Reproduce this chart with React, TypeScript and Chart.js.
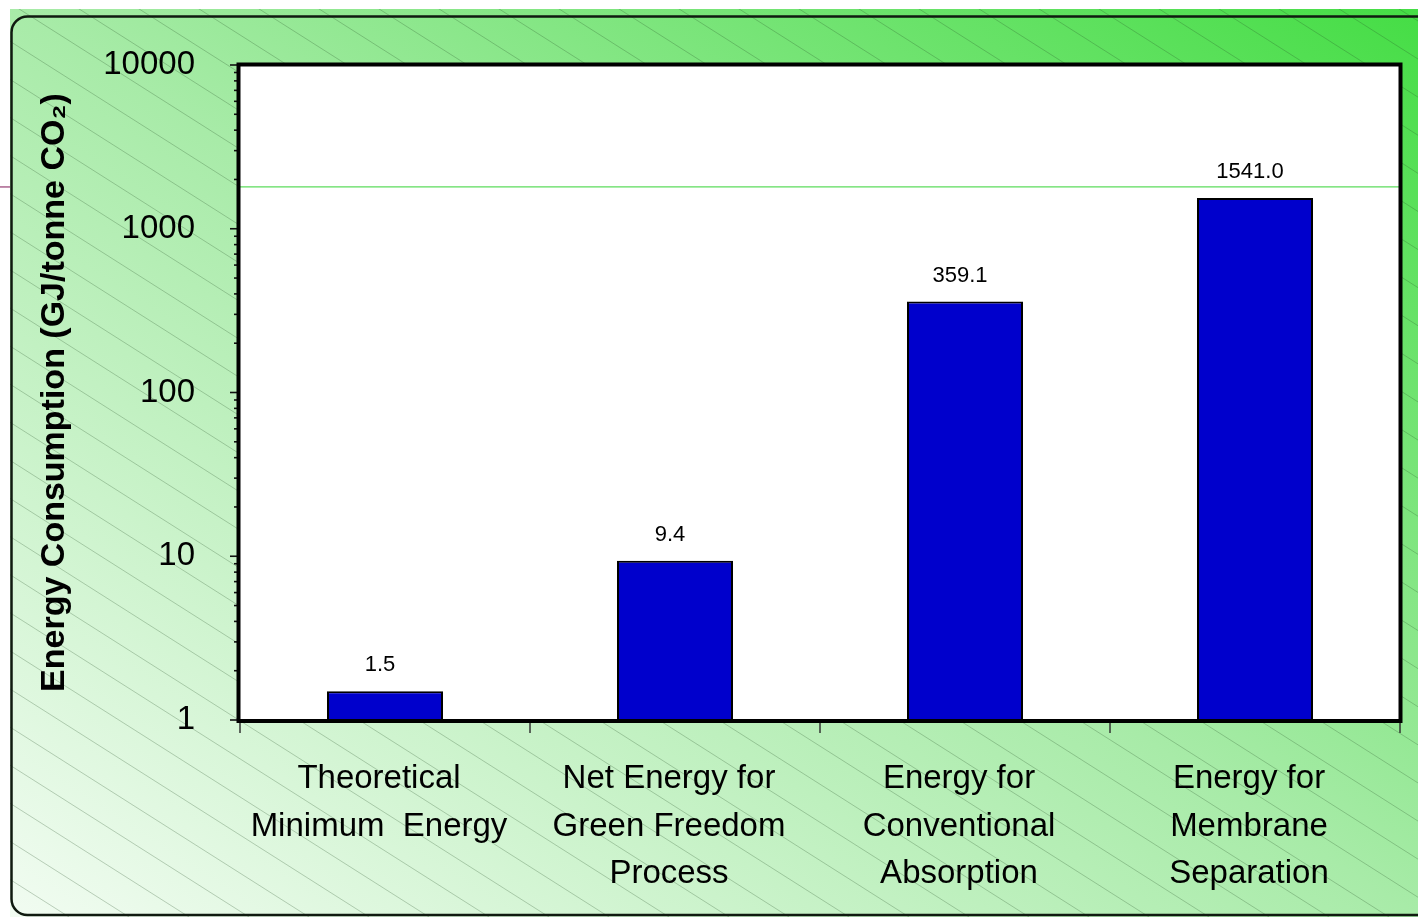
import React, { useEffect, useRef } from "react";
import { Chart, registerables } from "chart.js";

Chart.register(...registerables);

const FONT = "'Liberation Sans', Arial, Helvetica, sans-serif";

const categories: string[][] = [
  ["Theoretical", "Minimum  Energy"],
  ["Net Energy for", "Green Freedom", "Process"],
  ["Energy for", "Conventional", "Absorption"],
  ["Energy for", "Membrane", "Separation"],
];
const energyValues = [1.5, 9.4, 359.1, 1541.0];
const valueLabels = ["1.5", "9.4", "359.1", "1541.0"];
const yTickValues = [1, 10, 100, 1000, 10000];
const minorMultipliers = [2, 3, 4, 5, 6, 7, 8, 9];
const referenceLineValue = 1800;
const yAxisTitle = "Energy Consumption (GJ/tonne CO\u2082)";

const backgroundPlugin = {
  id: "slideBackground",
  beforeDraw(chart: any) {
    const { ctx, width, height, chartArea } = chart;
    ctx.save();
    ctx.fillStyle = "#ffffff";
    ctx.fillRect(0, 0, width, height);

    const g = ctx.createLinearGradient(291, 1105, 1127, -189);
    g.addColorStop(0, "#f2fcf2");
    g.addColorStop(0.5, "#a8eba8");
    g.addColorStop(1, "#44dd44");
    ctx.fillStyle = g;
    ctx.fillRect(10, 9, width - 10, height - 9);

    // hatch lines
    ctx.save();
    ctx.beginPath();
    ctx.rect(10, 9, width - 10, height - 9);
    ctx.clip();
    ctx.strokeStyle = "rgba(40,80,40,0.27)";
    ctx.lineWidth = 1;
    const slope = 0.635;
    for (let k = -30; k < 30; k++) {
      const x0 = 5 + 60 * k;
      ctx.beginPath();
      ctx.moveTo(x0, 0);
      ctx.lineTo(x0 + height / slope, height);
      ctx.stroke();
    }
    ctx.restore();

    // rounded frame
    const r = 16;
    const L = 11.5, T = 16.5, B = 915, R = width + 40;
    ctx.beginPath();
    ctx.moveTo(R, T);
    ctx.lineTo(L + r, T);
    ctx.arcTo(L, T, L, T + r, r);
    ctx.lineTo(L, B - r);
    ctx.arcTo(L, B, L + r, B, r);
    ctx.lineTo(R, B);
    ctx.strokeStyle = "#101a10";
    ctx.lineWidth = 2.5;
    ctx.stroke();

    // plot area
    ctx.fillStyle = "#ffffff";
    ctx.fillRect(chartArea.left, chartArea.top, chartArea.right - chartArea.left, chartArea.bottom - chartArea.top);

    const yRef = chart.scales.y.getPixelForValue(referenceLineValue);
    ctx.strokeStyle = "#5ddc5d";
    ctx.lineWidth = 1.3;
    ctx.beginPath();
    ctx.moveTo(chartArea.left, yRef);
    ctx.lineTo(chartArea.right, yRef);
    ctx.stroke();
    ctx.strokeStyle = "#9c4a7c";
    ctx.beginPath();
    ctx.moveTo(0, yRef);
    ctx.lineTo(10, yRef);
    ctx.stroke();
    ctx.restore();
  },
  afterDatasetsDraw(chart: any) {
    const { ctx, chartArea } = chart;
    const yScale = chart.scales.y;
    const xScale = chart.scales.x;
    ctx.save();

    // y ticks (major + minor)
    ctx.strokeStyle = "#111";
    ctx.lineWidth = 1.6;
    yTickValues.forEach((v, i) => {
      const py = yScale.getPixelForValue(v);
      ctx.beginPath();
      ctx.moveTo(chartArea.left - 10, py);
      ctx.lineTo(chartArea.left, py);
      ctx.stroke();
      if (i < yTickValues.length - 1) {
        minorMultipliers.forEach((m) => {
          const pm = yScale.getPixelForValue(v * m);
          ctx.beginPath();
          ctx.moveTo(chartArea.left - 6, pm);
          ctx.lineTo(chartArea.left, pm);
          ctx.stroke();
        });
      }
    });

    // x ticks at category boundaries
    ctx.strokeStyle = "#333";
    ctx.lineWidth = 1.5;
    for (let i = 0; i <= categories.length; i++) {
      const px = xScale.getPixelForValue(i - 0.5);
      ctx.beginPath();
      ctx.moveTo(px, chartArea.bottom);
      ctx.lineTo(px, chartArea.bottom + 13);
      ctx.stroke();
    }

    // plot border
    ctx.strokeStyle = "#000";
    ctx.lineWidth = 4;
    ctx.strokeRect(
      chartArea.left - 1.5,
      chartArea.top - 0.5,
      chartArea.right - chartArea.left + 2,
      chartArea.bottom - chartArea.top + 1.5
    );

    // data labels
    const meta = chart.getDatasetMeta(0);
    ctx.fillStyle = "#000";
    ctx.font = `22px ${FONT}`;
    ctx.textAlign = "center";
    ctx.textBaseline = "middle";
    meta.data.forEach((bar: any, i: number) => {
      ctx.fillText(valueLabels[i], bar.x - 5, bar.y - 26);
    });
    ctx.restore();
  },
};

export default function App() {
  const canvasRef = useRef<HTMLCanvasElement | null>(null);

  useEffect(() => {
    if (!canvasRef.current) return;
    const chart = new Chart(canvasRef.current, {
      type: "bar",
      data: {
        labels: categories,
        datasets: [
          {
            data: energyValues,
            backgroundColor: "#0000cc",
            borderColor: "#000000",
            borderWidth: 2,
            barPercentage: 0.4,
            categoryPercentage: 1.0,
          },
        ],
      },
      options: {
        responsive: false,
        animation: false,
        devicePixelRatio: 1,
        layout: { padding: { left: 0, top: 65, right: 18, bottom: 0 } },
        plugins: {
          legend: { display: false },
          tooltip: { enabled: false },
        },
        scales: {
          x: {
            type: "category",
            offset: true,
            grid: { display: false, drawTicks: false },
            border: { display: false },
            ticks: {
              color: "#000",
              font: { family: FONT, size: 33, lineHeight: 1.44 },
              padding: 35.5,
              labelOffset: -6,
              maxRotation: 0,
              autoSkip: false,
            },
            afterFit(scale: any) {
              scale.height = 197;
            },
          },
          y: {
            type: "logarithmic",
            min: 1,
            max: 10000,
            grid: { display: false, drawTicks: false },
            border: { display: false },
            afterBuildTicks(scale: any) {
              scale.ticks = yTickValues.map((v) => ({ value: v }));
            },
            ticks: {
              color: "#000",
              font: { family: FONT, size: 33 },
              padding: 45,
              autoSkip: false,
              callback: (v: any) => String(v),
            },
            title: {
              display: true,
              text: yAxisTitle,
              color: "#000",
              font: { family: FONT, size: 34, weight: "bold", lineHeight: 1.2 },
              padding: { top: 34, bottom: 0 },
            },
            afterFit(scale: any) {
              scale.width = 240;
            },
          },
        },
      },
      plugins: [backgroundPlugin],
    });
    return () => chart.destroy();
  }, []);

  return (
    <div style={{ position: "fixed", left: 0, top: 0, width: 1418, height: 917 }}>
      <canvas ref={canvasRef} width={1418} height={917} style={{ display: "block" }} />
    </div>
  );
}
